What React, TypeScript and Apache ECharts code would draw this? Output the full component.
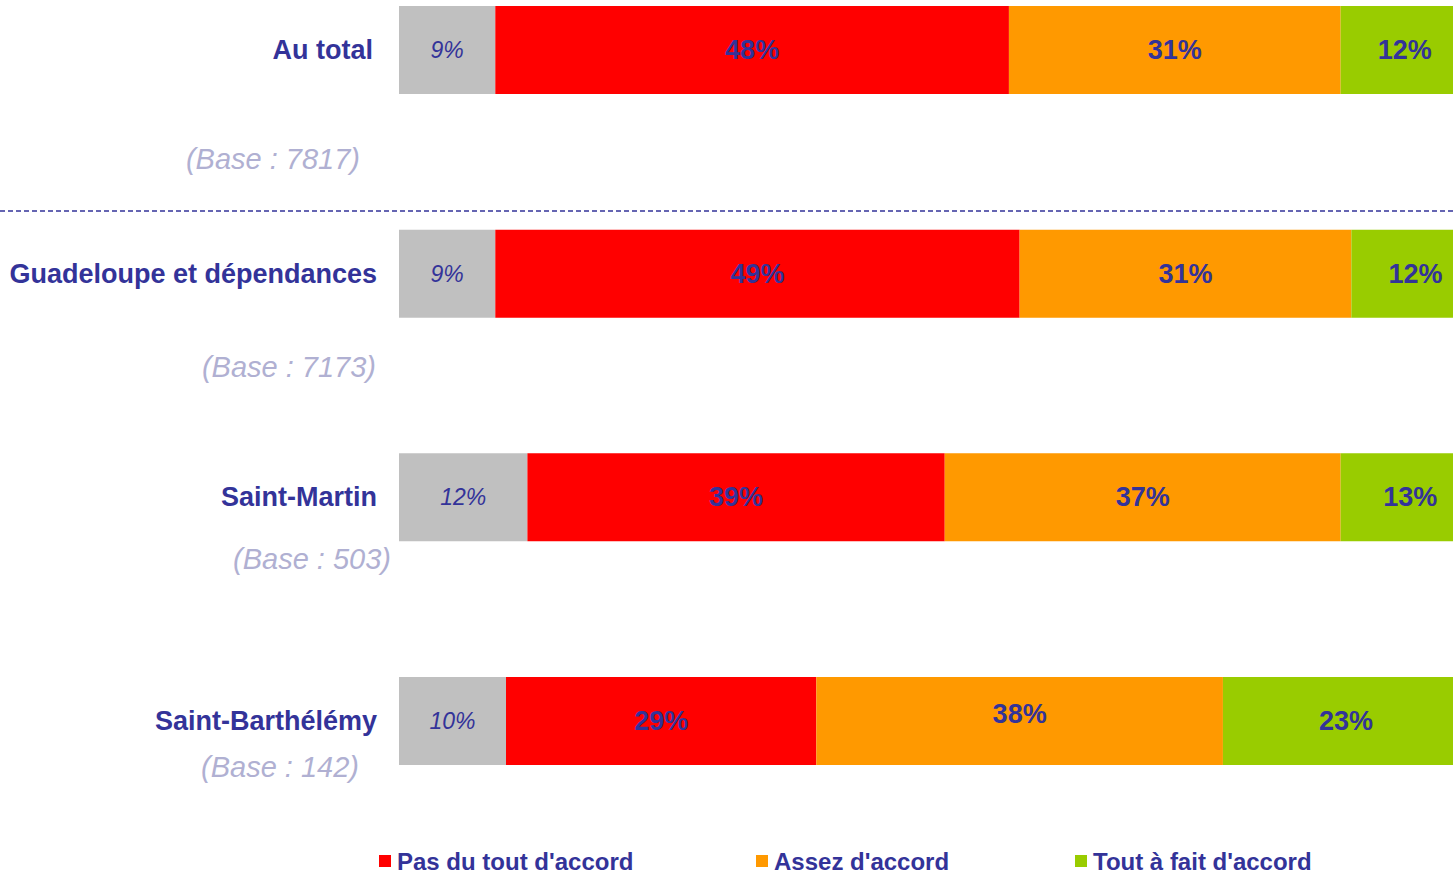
import React, { useEffect, useRef } from "react";
import * as echarts from "echarts";

const categories = ["Au total", "Guadeloupe et dépendances", "Saint-Martin", "Saint-Barthélémy"];
const bases = ["(Base : 7817)", "(Base : 7173)", "(Base : 503)", "(Base : 142)"];
const seriesNames = ["Sans réponse", "Pas du tout d'accord", "Assez d'accord", "Tout à fait d'accord"];
const sansReponse = [9, 9, 12, 10];
const pasDuTout = [48, 49, 39, 29];
const assez = [31, 31, 37, 38];
const toutAFait = [12, 12, 13, 23];

const COLORS = ["#C0C0C0", "#FF0000", "#FF9900", "#99CC00"];
const BLUE = "#333399";
const ARIAL = "'Liberation Sans', Arial, sans-serif";

// base label placement (right edge x, center y)
const basePos = [
  [360, 159],
  [376, 367],
  [391, 559],
  [359, 767],
];
const legendLeft = [379, 756, 1075];

export default function App() {
  const ref = useRef<HTMLDivElement>(null);
  useEffect(() => {
    if (!ref.current) return;
    const chart = echarts.init(ref.current, null, { renderer: "svg" });
    const values = [sansReponse, pasDuTout, assez, toutAFait];
    const series = values.map((vals, i) => ({
      name: seriesNames[i],
      type: "bar",
      stack: "total",
      barWidth: 88,
      clip: false,
      data: vals.map((v, j) =>
        i === 2 && j === 3 ? { value: v, label: { offset: [0, -7] } } : v
      ),
      itemStyle: { color: COLORS[i] },
      label: {
        show: true,
        position: "inside",
        formatter: "{c}%",
        color: BLUE,
        fontFamily: ARIAL,
        fontSize: i === 0 ? 23 : 27,
        fontStyle: i === 0 ? "italic" : "normal",
        fontWeight: i === 0 ? "normal" : "bold",
      },
    }));
    const graphics: any[] = bases.map((b, i) => ({
      type: "text",
      x: basePos[i][0],
      y: basePos[i][1],
      style: {
        text: b,
        align: "right",
        verticalAlign: "middle",
        fill: "#B0B0D2",
        fontFamily: ARIAL,
        fontStyle: "italic",
        fontSize: 29,
      },
    }));
    graphics.push({
      type: "line",
      shape: { x1: 0, y1: 211, x2: 1453, y2: 211 },
      style: { stroke: BLUE, lineWidth: 1.5, lineDash: [5, 3] },
    });
    const legends = [1, 2, 3].map((si, k) => ({
      data: [seriesNames[si]],
      left: legendLeft[k],
      top: 849,
      padding: 0,
      icon: "rect",
      itemWidth: 12,
      itemHeight: 12,
      itemGap: 0,
      selectedMode: false,
      textStyle: {
        color: BLUE,
        fontFamily: ARIAL,
        fontWeight: "bold",
        fontSize: 24,
        padding: [0, 0, 0, 1],
      },
    }));
    chart.setOption({
      animation: false,
      grid: { left: 399, right: 0, top: 50, bottom: 156, containLabel: false, outerBoundsMode: "none" },
      xAxis: { type: "value", min: 0, max: 98.5, show: false },
      yAxis: {
        type: "category",
        data: categories,
        inverse: true,
        boundaryGap: false,
        axisLine: { show: false },
        axisTick: { show: false },
        splitLine: { show: false },
        axisLabel: {
          margin: 22,
          color: BLUE,
          fontFamily: ARIAL,
          fontWeight: "bold",
          fontSize: 27,
          formatter: (v: string, idx: number) => (idx === 0 ? `{first|${v}}` : v),
          rich: {
            first: {
              color: BLUE,
              fontFamily: ARIAL,
              fontWeight: "bold",
              fontSize: 27,
              padding: [0, 4, 0, 0],
            },
          },
        },
      },
      legend: legends,
      graphic: graphics,
      series,
    });
    return () => chart.dispose();
  }, []);
  return (
    <div
      ref={ref}
      style={{ position: "fixed", left: 0, top: 0, width: 1453, height: 877, overflow: "hidden", background: "#fff" }}
    />
  );
}
